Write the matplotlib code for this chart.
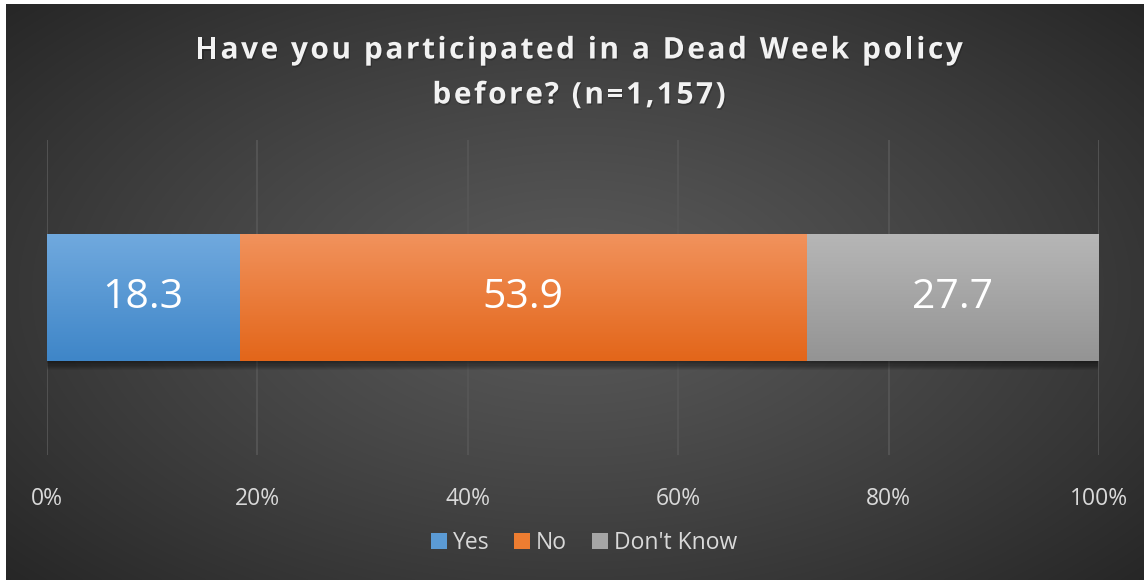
import numpy as np
import matplotlib
matplotlib.use("Agg")
import matplotlib.pyplot as plt
import matplotlib.patheffects as pe
from matplotlib.patches import Patch
from matplotlib.font_manager import FontProperties

# Chart data
categories = ["Yes", "No", "Don't Know"]
values = [18.3, 53.9, 27.7]
colors_top = ["#70a9de", "#f1925c", "#b6b6b6"]
colors_bottom = ["#3f86c8", "#e3661a", "#949494"]
legend_colors = ["#5b9bd5", "#ed7d31", "#a5a5a5"]
ticks = [0, 20, 40, 60, 80, 100]
tick_labels = ["0%", "20%", "40%", "60%", "80%", "100%"]
title_lines = ["Have you participated in a Dead Week policy", "before? (n=1,157)"]

W, H = 1144, 580
plt.rcParams["font.family"] = ["Open Sans", "DejaVu Sans"]
fig = plt.figure(figsize=(W / 100, H / 100), dpi=100, facecolor="white")

# --- dark radial background panel ---
bg = fig.add_axes([6 / W, 0, 1 - 6 / W, 1 - 4 / H])
bg.set_axis_off()
yy, xx = np.mgrid[-1:1:300j, -1:1:600j]
r = np.sqrt((xx / 1.05) ** 2 + (yy / 1.15) ** 2)
r = np.clip(r, 0, 1.3) / 1.3
shade = 0.35 - 0.20 * r ** 1.2
img = np.dstack([shade, shade, shade])
bg.imshow(img, aspect="auto", extent=[0, 1, 0, 1], interpolation="bilinear")
bg.set_xlim(0, 1)
bg.set_ylim(0, 1)

# --- main plot ---
ax = fig.add_axes([47 / W, 1 - 455 / H, 1052 / W, 315 / H])
ax.patch.set_alpha(0)
ax.set_xlim(0, 100)
ax.set_ylim(-0.5, 0.5)
for s in ax.spines.values():
    s.set_visible(False)
ax.set_yticks([])
ax.set_xticks(ticks)
ax.set_xticklabels(tick_labels, color="#d9d9d9", fontsize=16.5)
ax.tick_params(axis="x", length=0, pad=23)
ax.grid(axis="x", color="#575757", linewidth=1.2)
ax.set_axisbelow(True)

left = 0
bar_h = 127 / 315
total = sum(values)
# soft drop shadow under the whole stack
for k in range(8):
    ax.barh(-0.004 - k * 0.0035, total, left=0, height=bar_h, color="black",
            alpha=0.07, zorder=2, linewidth=0)
for i, v in enumerate(values):
    bars = ax.barh(0, v, left=left, height=bar_h, color=legend_colors[i], zorder=3)
    b = bars[0]
    c1 = np.array(matplotlib.colors.to_rgb(colors_top[i]))
    c2 = np.array(matplotlib.colors.to_rgb(colors_bottom[i]))
    t = np.linspace(0, 1, 64)[:, None]
    grad = (c1 * (1 - t) + c2 * t)[:, None, :]
    im = ax.imshow(grad, aspect="auto", zorder=4, interpolation="bilinear",
                   extent=[b.get_x(), b.get_x() + b.get_width(),
                           b.get_y(), b.get_y() + b.get_height()])
    im.set_clip_path(b)
    ax.text(left + v / 2, 0, f"{v:.1f}", ha="center", va="center",
            color="white", fontsize=29.5, zorder=5)
    left += v
ax.set_xlim(0, 100)
ax.set_ylim(-0.5, 0.5)

# --- title, drawn char by char to get the wide letter spacing ---
renderer = fig.canvas.get_renderer()
tprop = FontProperties(family=["Open Sans", "DejaVu Sans"], weight="bold", size=21.5)
tracking = 2.5  # px between letters
shadow = [pe.withSimplePatchShadow(offset=(0.8, -1.2), shadow_rgbFace="black", alpha=0.22)]
for line, yc in zip(title_lines, [47, 92]):
    full_w = renderer.get_text_width_height_descent(line, tprop, ismath=False)[0]
    full_w += tracking * (len(line) - 1)
    x0 = 579 - full_w / 2
    for j, ch in enumerate(line):
        pre = renderer.get_text_width_height_descent(line[:j], tprop, ismath=False)[0] if j else 0
        x = x0 + pre + tracking * j
        fig.text(x / W, 1 - yc / H, ch, ha="left", va="center_baseline",
                 color="#f2f2f2", fontproperties=tprop, path_effects=shadow)

# --- legend ---
handles = [Patch(facecolor=c, edgecolor="none") for c in legend_colors]
leg = fig.legend(handles, categories, loc="center", bbox_to_anchor=(584 / W, 1 - 543 / H),
                 ncol=3, frameon=False, fontsize=16.5, handlelength=0.7, handleheight=0.7,
                 handletextpad=0.25, columnspacing=1.1)
for txt in leg.get_texts():
    txt.set_color("#d9d9d9")

fig.savefig("out.png", dpi=100, facecolor="white")
